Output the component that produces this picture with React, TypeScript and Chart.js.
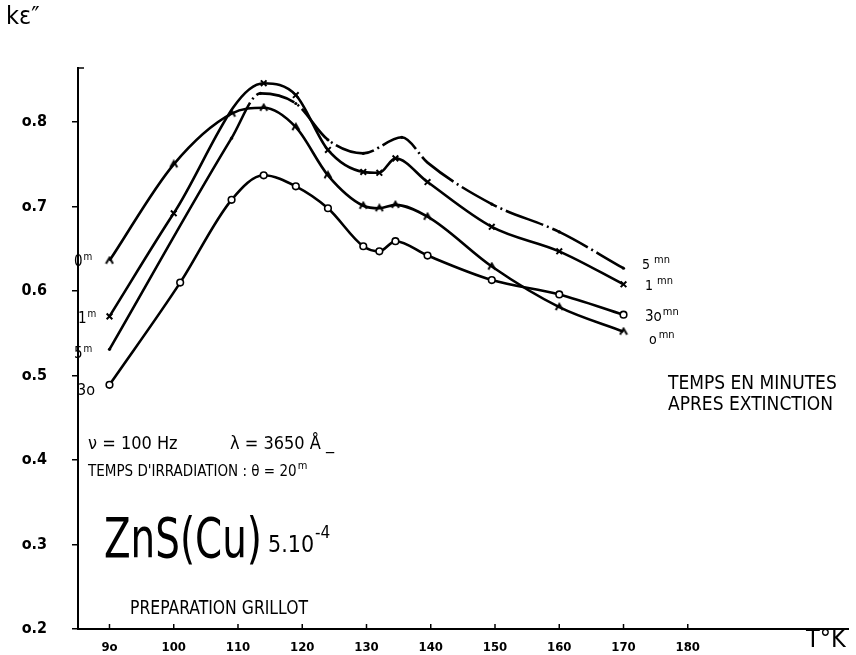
import React, { useEffect, useRef } from "react";
import { Chart, registerables } from "chart.js";

Chart.register(...registerables);

// ---- data (T in K, k·ε'' values) ----
const temps0m = [90, 100, 109, 114, 119, 124, 129.5, 132, 134.5, 139.5, 149.5, 160, 170];
const values0m = [0.636, 0.75, 0.81, 0.817, 0.794, 0.737, 0.701, 0.698, 0.702, 0.688, 0.629, 0.581, 0.552];

const temps1m = [90, 100, 114, 119, 124, 129.5, 132, 134.5, 139.5, 149.5, 160, 170];
const values1m = [0.57, 0.692, 0.846, 0.832, 0.767, 0.741, 0.74, 0.757, 0.729, 0.676, 0.647, 0.608];

const temps5m = [90, 109, 113.5, 119, 124, 129.5, 135.5, 139.5, 149.5, 160, 170];
const values5m = [0.531, 0.781, 0.834, 0.822, 0.779, 0.763, 0.782, 0.752, 0.703, 0.67, 0.627];

const temps30m = [90, 101, 109, 114, 119, 124, 129.5, 132, 134.5, 139.5, 149.5, 160, 170];
const values30m = [0.489, 0.61, 0.708, 0.737, 0.724, 0.698, 0.653, 0.647, 0.659, 0.642, 0.613, 0.596, 0.572];

const xTickValues = [90, 100, 110, 120, 130, 140, 150, 160, 170, 180];
const xTickLabels = ["9o", "100", "110", "120", "130", "140", "150", "160", "170", "180"];
const yTickValues = [0.2, 0.3, 0.4, 0.5, 0.6, 0.7, 0.8];
const yTickLabels = ["o.2", "o.3", "o.4", "o.5", "0.6", "o.7", "o.8"];

const FONT = "'DejaVu Sans Condensed', 'DejaVu Sans', sans-serif";

function makeCaret(): HTMLCanvasElement {
  const c = document.createElement("canvas");
  c.width = 10;
  c.height = 10;
  const g = c.getContext("2d")!;
  g.strokeStyle = "#000";
  g.lineWidth = 2;
  g.beginPath();
  g.moveTo(1.5, 8);
  g.lineTo(5, 2);
  g.lineTo(8.5, 8);
  g.stroke();
  return c;
}

function pts(xs: number[], ys: number[]) {
  return xs.map((x, i) => ({ x, y: ys[i] }));
}

function supText(ctx: CanvasRenderingContext2D, base: string, sup: string, x: number, y: number, size: number, supSize: number, gap = 1) {
  ctx.font = `${size}px ${FONT}`;
  ctx.fillText(base, x, y);
  const w = ctx.measureText(base).width;
  ctx.font = `${supSize}px ${FONT}`;
  ctx.fillText(sup, x + w + gap, y - size * 0.4);
}

const annotations = {
  id: "annotations",
  afterDraw(chart: any) {
    const ctx: CanvasRenderingContext2D = chart.ctx;
    const xs = chart.scales.x;
    const area = chart.chartArea;
    ctx.save();
    ctx.fillStyle = "#000";
    ctx.strokeStyle = "#000";
    // x tick marks pointing up
    ctx.lineWidth = 1.5;
    xTickValues.forEach((v) => {
      const px = xs.getPixelForValue(v);
      ctx.beginPath();
      ctx.moveTo(px, area.bottom);
      ctx.lineTo(px, area.bottom - 5);
      ctx.stroke();
    });
    // top tick on y axis
    ctx.beginPath();
    ctx.moveTo(area.left, area.top);
    ctx.lineTo(area.left + 6, area.top);
    ctx.stroke();

    ctx.textBaseline = "alphabetic";
    ctx.textAlign = "left";
    // axis names
    ctx.font = `25px ${FONT}`;
    ctx.fillText("kε″", 6, 24);
    ctx.font = `25px ${FONT}`;
    ctx.fillText("T°K", 806, 647);

    // left series labels
    supText(ctx, "0", "m", 74, 266, 15, 10);
    supText(ctx, "1", "m", 78, 323, 15, 10);
    supText(ctx, "5", "m", 74, 358, 15, 10);
    ctx.font = `16px ${FONT}`;
    ctx.fillText("3o", 77, 395);

    // right series labels
    supText(ctx, "5", "mn", 642, 269, 14, 11, 4);
    supText(ctx, "1", "mn", 645, 290, 14, 11, 4);
    supText(ctx, "3o", "mn", 645, 321, 15, 11, 1);
    supText(ctx, "o", "mn", 649, 344, 14, 11, 2);

    ctx.font = `19px ${FONT}`;
    ctx.fillText("TEMPS EN MINUTES", 668, 389, 186);
    ctx.fillText("APRES EXTINCTION", 668, 410, 188);

    ctx.font = `18px ${FONT}`;
    ctx.fillText("ν = 100 Hz", 88, 449);
    ctx.fillText("λ = 3650 Å _", 230, 449);
    ctx.font = `15px ${FONT}`;
    const irr = "TEMPS D'IRRADIATION : θ = 20";
    ctx.fillText(irr, 88, 476);
    const iw = ctx.measureText(irr).width;
    ctx.font = `11px ${FONT}`;
    ctx.fillText("m", 88 + iw + 1, 469);

    ctx.font = `56px ${FONT}`;
    ctx.fillText("ZnS(Cu)", 104, 557, 158);
    ctx.font = `23px ${FONT}`;
    ctx.fillText("5.10", 268, 552);
    const fw = ctx.measureText("5.10").width;
    ctx.font = `17px ${FONT}`;
    ctx.fillText("-4", 268 + fw + 1, 538);

    ctx.font = `19px ${FONT}`;
    ctx.fillText("PREPARATION GRILLOT", 130, 614, 178);
    ctx.restore();
  },
};

export default function App() {
  const ref = useRef<HTMLCanvasElement | null>(null);
  useEffect(() => {
    document.body.style.margin = "0";
    const caret = makeCaret();
    const common = {
      borderColor: "#000",
      borderWidth: 2.6,
      cubicInterpolationMode: "monotone" as const,
      fill: false,
      pointBorderColor: "#000",
    };
    const chart = new Chart(ref.current!, {
      type: "line",
      data: {
        datasets: [
          {
            ...common,
            label: "0 mn",
            data: pts(temps0m, values0m),
            pointStyle: caret as any,
            pointRadius: 5,
          },
          {
            ...common,
            label: "1 mn",
            data: pts(temps1m, values1m),
            pointStyle: "crossRot",
            pointRadius: 4,
            pointBorderWidth: 2,
          },
          {
            ...common,
            label: "5 mn",
            data: pts(temps5m, values5m),
            segment: {
              borderDash: (c: any) => (c.p0.parsed.x < 105 ? [] : [40, 4, 2, 4]),
            },
            pointStyle: "circle",
            pointRadius: temps5m.map((t) => (t === 139.5 ? 0 : 1.6)),
            pointBackgroundColor: "#000",
            pointBorderWidth: 0,
          },
          {
            ...common,
            label: "30 mn",
            data: pts(temps30m, values30m),
            pointStyle: "circle",
            pointRadius: 3.3,
            pointBackgroundColor: "#fff",
            pointBorderWidth: 1.6,
          },
        ],
      },
      options: {
        responsive: false,
        animation: false,
        layout: { padding: { top: 68, right: 0, left: 0, bottom: 0 } },
        plugins: { legend: { display: false }, tooltip: { enabled: false }, title: { display: false } },
        scales: {
          x: {
            type: "linear",
            min: 85.1,
            max: 205,
            afterBuildTicks: (s: any) => {
              s.ticks = xTickValues.map((v) => ({ value: v }));
            },
            afterFit: (s: any) => {
              s.height = 26;
              s.paddingLeft = 0;
              s.paddingRight = 0;
            },
            grid: { display: false },
            border: { display: true, color: "#000", width: 2 },
            ticks: {
              color: "#000",
              padding: 3,
              maxRotation: 0,
              autoSkip: false,
              font: { family: FONT, size: 13, weight: "bold" },
              callback: (v: any) => {
                const i = xTickValues.indexOf(Number(v));
                return i >= 0 ? xTickLabels[i] : "";
              },
            },
          },
          y: {
            type: "linear",
            min: 0.2,
            max: 0.864,
            afterBuildTicks: (s: any) => {
              s.ticks = yTickValues.map((v) => ({ value: v }));
            },
            afterFit: (s: any) => {
              s.width = 78;
              s.paddingTop = 0;
              s.paddingBottom = 0;
            },
            grid: { display: true, drawOnChartArea: false, drawTicks: true, tickLength: 6, color: "#000", lineWidth: 1.5 },
            border: { display: true, color: "#000", width: 2 },
            ticks: {
              color: "#000",
              padding: 25,
              font: { family: FONT, size: 16, weight: "bold" },
              callback: (v: any) => {
                const i = yTickValues.findIndex((t) => Math.abs(t - Number(v)) < 1e-6);
                return i >= 0 ? yTickLabels[i] : "";
              },
            },
          },
        },
      },
      plugins: [annotations],
    });
    return () => chart.destroy();
  }, []);
  return (
    <div style={{ position: "absolute", left: 0, top: 0, width: 856, height: 655, background: "#fff" }}>
      <canvas ref={ref} width={856} height={655} style={{ width: 856, height: 655, display: "block" }} />
    </div>
  );
}
